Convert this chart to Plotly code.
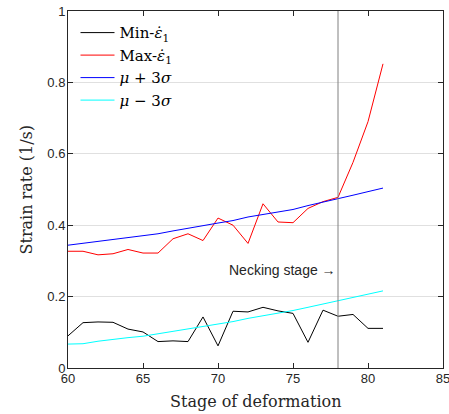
import plotly.graph_objects as go

stages = list(range(60, 82))
min_rate = [0.090, 0.127, 0.129, 0.128, 0.109, 0.101, 0.074, 0.076, 0.074, 0.143, 0.062,
            0.159, 0.157, 0.170, 0.160, 0.153, 0.072, 0.162, 0.145, 0.150, 0.111, 0.111]
max_rate = [0.327, 0.327, 0.317, 0.320, 0.332, 0.322, 0.322, 0.362, 0.376, 0.357, 0.420,
            0.400, 0.349, 0.460, 0.409, 0.407, 0.447, 0.466, 0.478, 0.576, 0.690, 0.852]
mu_plus = [0.344, 0.349, 0.355, 0.361, 0.364, 0.370, 0.376, 0.384, 0.392, 0.399, 0.406,
           0.413, 0.423, 0.430, 0.437, 0.444, 0.455, 0.464, 0.474, 0.484, 0.494, 0.504]
mu_minus = [0.067, 0.068, 0.075, 0.081, 0.085, 0.089, 0.096, 0.102, 0.109, 0.115, 0.123,
            0.130, 0.139, 0.146, 0.155, 0.161, 0.170, 0.179, 0.188, 0.196, 0.206, 0.216]
necking_stage = 78
x_ticks = [60, 65, 70, 75, 80, 85]
y_ticks = [0, 0.2, 0.4, 0.6, 0.8, 1]
y_tick_text = ["0", "0.2", "0.4", "0.6", "0.8", "1"]

serif = "DejaVu Serif"
sans = "Liberation Sans"

fig = go.Figure()
series = [
    ("Min-<i>ε\u0307</i><sub>1</sub>", min_rate, "#000000"),
    ("Max-<i>ε\u0307</i><sub>1</sub>", max_rate, "#ff0000"),
    ("<i>μ</i> + 3<i>σ</i>", mu_plus, "#0000ff"),
    ("<i>μ</i> − 3<i>σ</i>", mu_minus, "#00ffff"),
]
for name, vals, col in series:
    fig.add_trace(go.Scatter(x=stages, y=vals, mode="lines", name=name,
                             line=dict(color=col, width=1)))

fig.add_shape(type="line", x0=necking_stage, x1=necking_stage, y0=0, y1=1,
              xref="x", yref="y", line=dict(color="#808080", width=1))
fig.add_annotation(x=necking_stage, y=0.274, xref="x", yref="y", text="Necking stage →",
                   showarrow=False, xanchor="right", yanchor="middle",
                   font=dict(family=sans, size=14, color="#262626"))

# axis titles
fig.add_annotation(x=-0.112, y=0.5, xref="paper", yref="paper", text="Strain rate (1/s)",
                   textangle=-90, showarrow=False, xanchor="center", yanchor="middle",
                   font=dict(family=serif, size=16, color="#262626"))
fig.add_annotation(x=0.5, y=-0.095, xref="paper", yref="paper", text="Stage of deformation",
                   showarrow=False, xanchor="center", yanchor="middle",
                   font=dict(family=serif, size=16, color="#262626"))

axis_common = dict(showline=True, linecolor="#262626", linewidth=1, mirror="allticks",
                   ticks="inside", ticklen=5, tickcolor="#262626", zeroline=False,
                   ticklabeloverflow="allow", automargin=False,
                   tickfont=dict(family=sans, size=13, color="#262626"))
fig.update_xaxes(range=[60, 85], tickvals=x_ticks, showgrid=False,
                 ticklabelstandoff=-2, **axis_common)
fig.update_yaxes(range=[0, 1], tickvals=y_ticks, ticktext=y_tick_text,
                 showgrid=True, gridcolor="#e0e0e0", gridwidth=1,
                 ticklabelstandoff=-1, **axis_common)

fig.update_layout(
    width=449, height=414,
    margin=dict(l=68, r=6, t=11, b=46),
    plot_bgcolor="white", paper_bgcolor="white",
    showlegend=True,
    legend=dict(x=0.02, y=0.985, xanchor="left", yanchor="top",
                bgcolor="rgba(0,0,0,0)", borderwidth=0,
                font=dict(family=serif, size=15, color="#000000"),
                tracegroupgap=0, itemwidth=34),
)

fig.write_html("out.html")
